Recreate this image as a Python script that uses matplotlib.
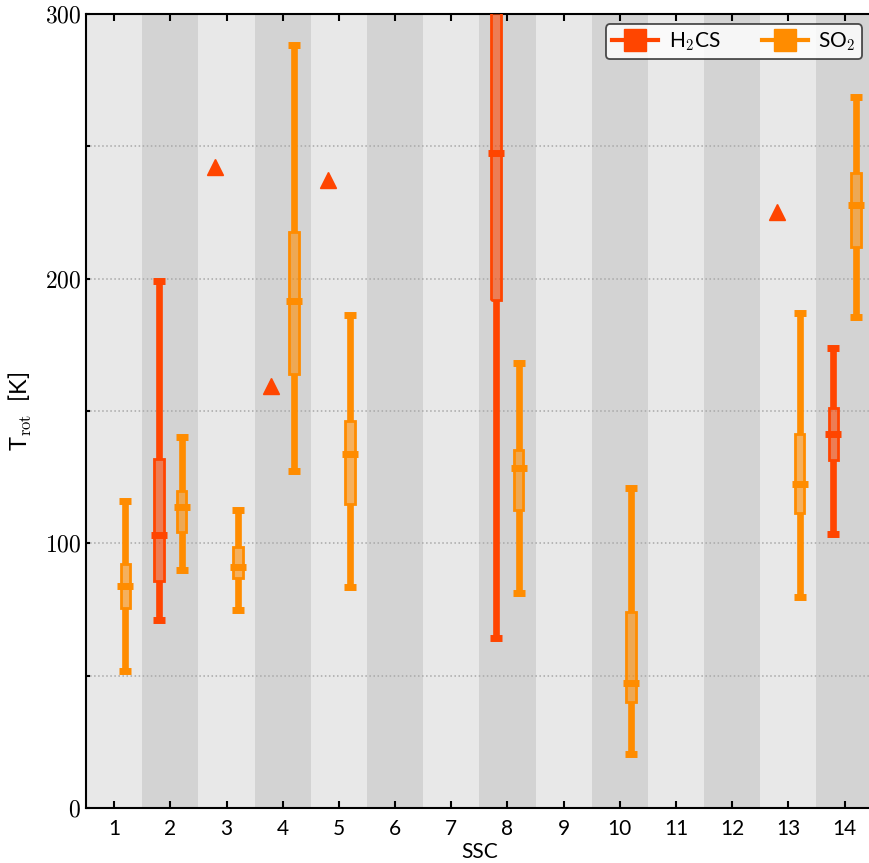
import numpy as np
import matplotlib
matplotlib.use("Agg")
import matplotlib.pyplot as plt
from matplotlib.lines import Line2D
from matplotlib.ticker import MultipleLocator, FuncFormatter

plt.rcParams['font.family'] = ['Lato', 'DejaVu Sans']
plt.rcParams['mathtext.fontset'] = 'cm'

# SSC numbers on the x axis
ssc = np.arange(1, 15)

# H2CS: median, 68% box, 95% range
h2cs_ssc = [2, 8, 14]
h2cs_med = [103.0, 247.3, 141.2]
h2cs_lo68 = [85.8, 191.9, 131.5]
h2cs_hi68 = [131.7, 315.0, 151.2]
h2cs_lo95 = [70.9, 64.2, 103.4]
h2cs_hi95 = [199.1, 340.0, 173.7]

# H2CS lower limits (triangles)
h2cs_lim_ssc = [3, 4, 5, 13]
h2cs_lim = [242.3, 159.6, 237.1, 225.3]

# SO2
so2_ssc = [1, 2, 3, 4, 5, 8, 10, 13, 14]
so2_med = [83.7, 113.6, 90.9, 191.4, 133.6, 128.3, 47.1, 122.3, 228.0]
so2_lo68 = [75.4, 104.2, 86.8, 164.1, 114.8, 112.6, 40.2, 111.3, 212.1]
so2_hi68 = [92.1, 119.9, 98.7, 217.5, 146.2, 135.2, 74.2, 141.5, 239.8]
so2_lo95 = [51.6, 89.9, 74.7, 127.2, 83.4, 81.1, 20.3, 79.6, 185.4]
so2_hi95 = [115.9, 140.0, 112.5, 288.1, 186.1, 168.0, 120.8, 186.9, 268.7]

c_h2cs = '#FF4500'
c_so2 = '#FF8C00'
shift = 0.2


def draw_ranges(ax, xs, med, lo68, hi68, lo95, hi95, col, dx):
    x = np.array(xs) + dx
    ax.vlines(x, lo95, lo68, color=col, lw=4.8, zorder=3)
    ax.vlines(x, hi68, hi95, color=col, lw=4.8, zorder=3)
    ax.plot(x, lo95, ls='none', marker='_', ms=8, mew=5, color=col, zorder=4)
    ax.plot(x, hi95, ls='none', marker='_', ms=8, mew=5, color=col, zorder=4)
    h = np.array(hi68) - np.array(lo68)
    ax.bar(x, h, bottom=lo68, width=0.17, color=col, alpha=0.6,
           edgecolor='none', zorder=3)
    ax.bar(x, h, bottom=lo68, width=0.17, color='none',
           edgecolor=col, lw=2, zorder=3)
    ax.plot(x, med, ls='none', marker='_', ms=11, mew=5, color=col, zorder=5)


fig = plt.figure(figsize=(8.7, 8.63), dpi=100)
ax = fig.add_axes([0.0989, 0.0637, 0.9041, 0.9201])

for s in ssc:
    ax.axvspan(s - 0.5, s + 0.5, color='#D3D3D3' if s % 2 == 0 else '#E8E8E8',
               lw=0, zorder=0)

ax.yaxis.grid(True, which='both', ls=':', color='#A8A8A8', lw=1.1, zorder=1)

draw_ranges(ax, h2cs_ssc, h2cs_med, h2cs_lo68, h2cs_hi68, h2cs_lo95, h2cs_hi95,
            c_h2cs, -shift)
draw_ranges(ax, so2_ssc, so2_med, so2_lo68, so2_hi68, so2_lo95, so2_hi95,
            c_so2, shift)
ax.plot(np.array(h2cs_lim_ssc) - shift, h2cs_lim, ls='none', marker='^', ms=11,
        color=c_h2cs, zorder=5)

ax.set_xlim(0.5, 14.5)
ax.set_ylim(0, 300)
ax.set_xticks(ssc)
ax.yaxis.set_major_locator(MultipleLocator(100))
ax.yaxis.set_minor_locator(MultipleLocator(50))
ax.yaxis.set_major_formatter(FuncFormatter(lambda v, p: r'$%d$' % v))
ax.tick_params(axis='x', direction='in', length=5, width=1.5, top=True,
               labelsize=15, pad=8)
ax.tick_params(axis='y', which='both', direction='in', length=3, width=1.5,
               right=True, labelsize=17)
for sp in ax.spines.values():
    sp.set_linewidth(1.5)

ax.set_xlabel('SSC', fontsize=15, labelpad=2)
ax.set_ylabel(r'T$_\mathrm{rot}$  [K]', fontsize=17, labelpad=8)

handles = [Line2D([], [], color=c_h2cs, lw=3, marker='s', ms=16),
           Line2D([], [], color=c_so2, lw=3, marker='s', ms=16)]
leg = ax.legend(handles, [r'H$_2$CS', r'SO$_2$'], loc='upper right', ncol=2,
                fontsize=15, framealpha=0.8, edgecolor='#222222', fancybox=True,
                handlelength=2.2, handletextpad=0.5, columnspacing=2.0,
                borderaxespad=0.5, borderpad=0.3)
leg.get_frame().set_linewidth(1.3)

fig.savefig('out.png', dpi=100)
